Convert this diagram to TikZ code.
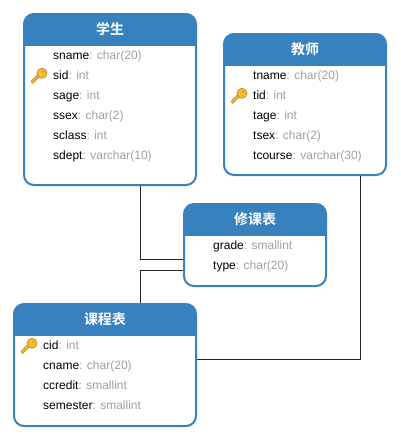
\documentclass[tikz,border=0pt]{standalone}
\usepackage{fontspec}
\setmainfont{Liberation Sans}
\newfontfamily\cjk{Noto Sans CJK SC}[BoldFont={* Bold}]
\definecolor{hdblue}{HTML}{3782BE}
\definecolor{typegray}{HTML}{A0A0A0}
\definecolor{keyfill}{HTML}{F5BE32}
\definecolor{keyedge}{HTML}{C88C14}
\tikzset{
	tbl/.style={draw=hdblue, line width=2pt, fill=white, rounded corners=10pt, inner sep=0pt,
		path picture={\fill[hdblue, sharp corners] (path picture bounding box.north west) rectangle ([yshift=-32pt]path picture bounding box.north east);}},
	hd/.style={text=white, font=\cjk\bfseries\fontsize{14}{14}\selectfont},
	row/.style={anchor=base west, inner sep=0pt, font=\fontsize{12}{14}\selectfont},
	link/.style={draw=black!85, line width=0.8pt},
	keyicon/.pic={
		\draw[keyedge, fill=keyfill, line width=0.7pt, line join=round] (-8,6.5) -- (-6.2,8.3) -- (1,1) -- (-0.8,-0.8) -- cycle;
		\draw[keyedge, fill=keyfill, line width=0.7pt] (3,-1.7) circle (5);
		\fill[keyedge] (4.2,-3.2) circle (0.9);
	}
}
\newcommand{\rowtext}[2]{#1{\color{typegray}: #2}}
\begin{document}
\begin{tikzpicture}[x=1pt,y=-1pt]
	\useasboundingbox[fill=white] (0,0) rectangle (400,440);
	
	% tables
	\node[tbl, minimum width=172, minimum height=171] (stu) at (110,99.5) {};
	\node[tbl, minimum width=162, minimum height=141] (tea) at (305,104.5) {};
	\node[tbl, minimum width=142, minimum height=82] (sel) at (255,245) {};
	\node[tbl, minimum width=182, minimum height=122] (crs) at (105,365) {};
	
	\node[hd] (stuhd) at (110,29.5) {学生};
	\node[hd] (teahd) at (305,49.5) {教师};
	\node[hd] (selhd) at (255,219.5) {修课表};
	\node[hd] (crshd) at (105,319.5) {课程表};
	
	% fields
	\foreach \n/\t [count=\i] in {sname/char(20),sid/int,sage/int,ssex/char(2),sclass/int,sdept/varchar(10)}
	\node[row] (stu\i) at (53,39.2+20*\i) {\rowtext{\n}{\t}};
	\foreach \n/\t [count=\i] in {tname/char(20),tid/int,tage/int,tsex/char(2),tcourse/varchar(30)}
	\node[row] (tea\i) at (253,59.2+20*\i) {\rowtext{\n}{\t}};
	\foreach \n/\t [count=\i] in {grade/smallint,type/char(20)}
	\node[row] (sel\i) at (213,229.2+20*\i) {\rowtext{\n}{\t}};
	\foreach \n/\t [count=\i] in {cid/int,cname/char(20),ccredit/smallint,semester/smallint}
	\node[row] (crs\i) at (43,329.2+20*\i) {\rowtext{\n}{\t}};
	
	% primary keys
	\pic at (39,75) {keyicon};
	\pic at (239,95) {keyicon};
	\pic at (29,345) {keyicon};
	
	% links
	\coordinate (stubend) at (140.5,259.5);
	\coordinate (crsbend) at (140.5,270.5);
	\coordinate (teabend) at (360,359.5);
	\draw[link] (stubend |- stu.south) -- (stubend) -- (stubend -| sel.west);
	\draw[link] (crsbend |- crs.north) -- (crsbend) -- (crsbend -| sel.west);
	\draw[link] (teabend |- tea.south) -- (teabend) -- (teabend -| crs.east);
\end{tikzpicture}
\end{document}
